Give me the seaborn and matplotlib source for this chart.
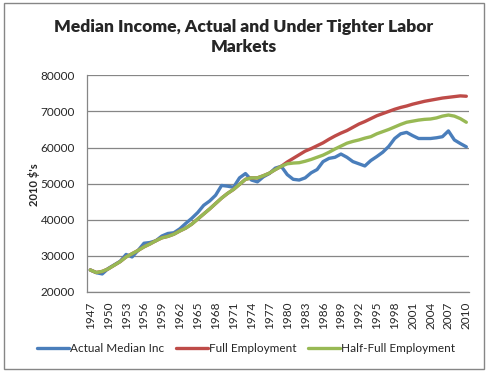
"""
Median income, actual vs. under tighter labor markets (Excel-style line chart).
"""
import numpy as np
import pandas as pd
import matplotlib
matplotlib.use("Agg")
import matplotlib.pyplot as plt
from matplotlib.patches import Rectangle
import seaborn as sns

YEARS = list(range(1947, 2011))

ACTUAL = [
    26100, 25350, 25000, 26500, 27500, 28500, 30400, 29700, 31500, 33500,
    33700, 34200, 35500, 36200, 36400, 37500, 39000, 40400, 42000, 44000,
    45200, 46800, 49500, 49300, 49000, 51600, 52800, 51000, 50500, 51900,
    52800, 54300, 54800, 52500, 51200, 51000, 51600, 53000, 53900, 56100,
    57000, 57300, 58200, 57300, 56100, 55500, 54900, 56400, 57500, 58700,
    60300, 62500, 63800, 64200, 63300, 62500, 62500, 62500, 62700, 63000,
    64600, 62100, 61100, 60200,
]

HALF_FULL = [
    26100, 25400, 25700, 26400, 27400, 28400, 29700, 30600, 31500, 32500,
    33300, 34200, 35000, 35400, 36000, 36900, 37700, 38800, 40200, 41600,
    43000, 44500, 46000, 47300, 48400, 49800, 51200, 51600, 51600, 52200,
    52900, 53900, 54800, 55500, 55700, 55800, 56200, 56700, 57300, 57900,
    58700, 59600, 60400, 61200, 61700, 62100, 62600, 63000, 63800, 64400,
    65000, 65700, 66400, 67000, 67300, 67600, 67800, 67900, 68200, 68700,
    69000, 68700, 68000, 67000,
]

FULL_LATE = [
    56000, 57000, 58000, 59000, 59700, 60500, 61300, 62300, 63200, 64000,
    64700, 65600, 66500, 67200, 68000, 68800, 69400, 70000, 70600, 71100,
    71500, 72000, 72400, 72800, 73100, 73400, 73700, 73900, 74100, 74300,
    74200,
]
# before 1980 the full-employment path coincides with the half-full one
FULL = HALF_FULL[:33] + FULL_LATE

SERIES = ["Actual Median Inc", "Full Employment", "Half-Full Employment"]
COLORS = ["#4A7EBB", "#BE4B48", "#98B954"]

df = pd.DataFrame({
    "year": YEARS * 3,
    "value": ACTUAL + FULL + HALF_FULL,
    "series": [SERIES[0]] * 64 + [SERIES[1]] * 64 + [SERIES[2]] * 64,
})

sns.set_style("white")
plt.rcParams["font.family"] = ["Lato", "DejaVu Sans"]

W, H = 490, 375
fig = plt.figure(figsize=(W / 100, H / 100), dpi=100)
ax = fig.add_axes([87.3 / W, 1 - 292 / H, 382 / W, 216.7 / H])

sns.lineplot(data=df, x="year", y="value", hue="series", hue_order=SERIES,
             palette=COLORS, linewidth=2.4, ax=ax, legend=False)

ax.set_xlim(1946.5, 2010.5)
ax.set_ylim(20000, 80000)
ax.set_yticks(np.arange(20000, 80001, 10000))
ax.set_yticklabels([str(v) for v in range(20000, 80001, 10000)], fontsize=8.5)
ax.set_xticks(range(1947, 2011, 3))
ax.set_xticklabels([str(y) for y in range(1947, 2011, 3)], rotation=90, fontsize=8.5)
ax.tick_params(axis="both", length=0)
ax.tick_params(axis="y", pad=9)
ax.tick_params(axis="x", pad=7)
ax.grid(axis="y", color="#868686", linewidth=0.9)
ax.set_axisbelow(True)
for side in ["top", "right"]:
    ax.spines[side].set_visible(False)
for side in ["left", "bottom"]:
    ax.spines[side].set_color("#868686")
    ax.spines[side].set_linewidth(0.9)
ax.set_xlabel("")
ax.set_ylabel("")

fig.text(244 / W, 1 - 37 / H,
         "Median Income, Actual and Under Tighter Labor\nMarkets",
         ha="center", va="center", fontsize=12.6, fontweight="heavy", linespacing=1.35)
fig.text(34 / W, 1 - 185 / H, "2010 $'s", rotation=90, ha="center", va="center",
         fontsize=8, fontweight="bold")

handles = [plt.Line2D([], [], color=c, linewidth=2.4) for c in COLORS]
fig.legend(handles, SERIES, loc="center", bbox_to_anchor=(246 / W, 1 - 349 / H),
           ncol=3, frameon=False, fontsize=8.5, handlelength=2.7,
           handletextpad=0.1, columnspacing=1.0)

fig.patches.append(Rectangle((4 / W, 1 - 369 / H), 480 / W, 366 / H,
                             transform=fig.transFigure, fill=False,
                             edgecolor="#868686", linewidth=1))

fig.savefig("out.png", dpi=100)
